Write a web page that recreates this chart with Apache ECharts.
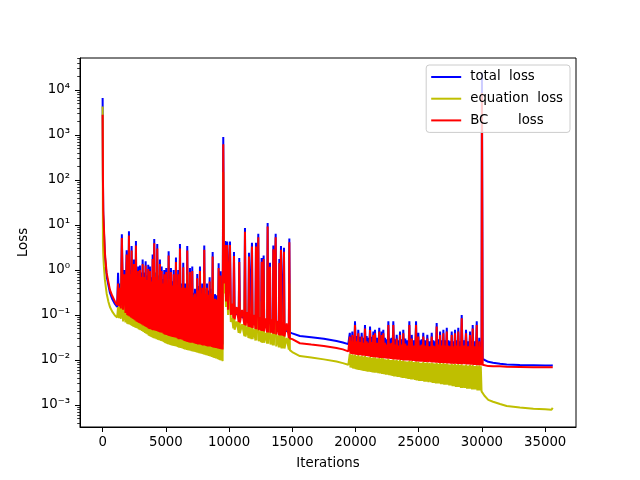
<!DOCTYPE html>
<html>
<head>
<meta charset="utf-8">
<script src="https://cdn.jsdelivr.net/npm/echarts@6/dist/echarts.min.js"></script>
<style>
html,body{margin:0;padding:0;background:#fff;}
#chart{width:640px;height:480px;}
</style>
</head>
<body>
<div id="chart"></div>
<script>
// ---------------- data ----------------
const iterations = [
  0, 25, 50, 100, 180, 316, 450, 578, 750, 973, 1150,
  1220, 1295, 1370, 1445,
  1520, 1615, 1710, 1805,
  1900, 1945, 1990, 2035,
  2081, 2135, 2188, 2241,
  2294, 2340, 2385, 2430,
  2476, 2516, 2555, 2595,
  2634, 2680, 2725, 2771,
  2817, 2851, 2884, 2918,
  2951, 3004, 3058, 3111,
  3164, 3224, 3283, 3343,
  3402, 3454, 3505, 3557,
  3608, 3642, 3675, 3709,
  3742, 3796, 3849, 3903,
  3956, 3988, 4019, 4051,
  4082, 4142, 4201, 4261,
  4320, 4373, 4427, 4480,
  4533, 4567, 4601, 4634,
  4668, 4719, 4771, 4822,
  4873, 4913, 4953, 4992,
  5032, 5079, 5127, 5174,
  5221, 5267, 5312, 5358,
  5403, 5457, 5510, 5564,
  5617, 5663, 5708, 5754,
  5799, 5845, 5890, 5936,
  5981, 6015, 6048, 6082,
  6115, 6181, 6246, 6312,
  6377, 6417, 6456, 6496,
  6535, 6575, 6614, 6654,
  6693, 6747, 6800, 6854,
  6907, 6953, 6998, 7044,
  7089, 7142, 7196, 7249,
  7302, 7348, 7393, 7439,
  7484, 7538, 7591, 7645,
  7698, 7744, 7789, 7835,
  7880, 7920, 7959, 7999,
  8038, 8092, 8145, 8199,
  8252, 8305, 8359, 8412,
  8465, 8525, 8584, 8644,
  8703, 8748, 8794, 8839,
  8884, 8957, 9031, 9104,
  9177, 9217, 9256, 9296,
  9335, 9387, 9438, 9490,
  9541,
  9600, 9700, 9760, 9850, 9920, 10071, 10140, 10240,
  10340, 10388, 10440, 10600, 10760, 10807, 10860, 11035, 11210, 11258, 11310, 11420,
  11530, 11574, 11620, 11695, 11770, 11812, 11860, 11970, 12085, 12128, 12170,
  12270, 12312, 12355, 12445, 12535, 12576, 12620, 12695, 12735, 12780, 12895,
  13010, 13051, 13095, 13195, 13236, 13280, 13370, 13460, 13500, 13545,
  13645, 13687, 13730, 13830, 13935, 13975, 14020, 14065, 14106, 14150, 14225,
  14300, 14343, 14385, 14555, 14725, 14767, 14810, 14900,
  15000, 15600, 16500, 17500, 18500, 19000, 19430,
  19550, 19600, 19650, 19700,
  19750, 19800, 19855, 19910,
  19960, 20025, 20090, 20155,
  20220, 20288, 20355, 20423,
  20490, 20555, 20620, 20685,
  20750, 20817, 20883, 20950, 21017, 21083,
  21150, 21215, 21280, 21345,
  21410, 21443, 21475, 21508,
  21540, 21625, 21710, 21795,
  21880, 21928, 21975, 22023,
  22070, 22103, 22135, 22168,
  22200, 22267, 22333, 22400, 22467, 22533,
  22600, 22665, 22730, 22795, 22860, 22925,
  22990, 23058, 23125, 23193,
  23260, 23325, 23390, 23455,
  23520, 23585, 23650, 23715,
  23780, 23860, 23940, 24020, 24100, 24180,
  24260, 24308, 24355, 24403,
  24450, 24535, 24620, 24705,
  24790, 24835, 24880, 24925,
  24970, 25035, 25100, 25165, 25230, 25295,
  25360, 25440, 25520, 25600,
  25680, 25768, 25855, 25943,
  26030, 26095, 26160, 26225, 26290, 26355,
  26420, 26488, 26555, 26623,
  26690, 26755, 26820, 26885,
  26950, 27018, 27085, 27153,
  27220, 27285, 27350, 27415, 27480, 27545,
  27610, 27675, 27740, 27805,
  27870, 27935, 28000, 28065,
  28130, 28198, 28265, 28333,
  28400, 28485, 28570, 28655,
  28740, 28820, 28900, 28980,
  29060, 29113, 29165, 29218,
  29270, 29350, 29430, 29510,
  29590, 29640, 29690, 29740,
  29790, 29850, 29910, 29970,
  30000,
  30060, 30200, 30500, 30880, 31430, 31960, 33000, 34070, 35000, 35500, 35600
];

const totalLoss = [
  6600, 100, 17, 7.5, 2.0, 0.73, 0.47, 0.31, 0.23, 0.175, 0.15,
  0.86, 0.2, 0.5, 0.18,
  6.2, 0.17, 1.0, 0.14,
  2.75, 0.13, 1.1, 0.125,
  7.2, 0.12, 1.0, 0.115,
  3.4, 0.11, 1.1, 0.105,
  1.7, 0.1, 0.88, 0.098,
  4.4, 0.094, 0.88, 0.09,
  1.2, 0.087, 0.75, 0.085,
  1.25, 0.083, 0.88, 0.08,
  1.7, 0.075, 0.88, 0.073,
  1.55, 0.07, 0.75, 0.068,
  1.3, 0.065, 0.75, 0.064,
  1.2, 0.062, 0.69, 0.061,
  2.2, 0.06, 1.0, 0.059,
  4.9, 0.058, 0.88, 0.057,
  3.75, 0.056, 0.75, 0.055,
  1.7, 0.053, 0.63, 0.053,
  1.2, 0.052, 0.63, 0.049,
  1.0, 0.048, 0.56, 0.047,
  1.1, 0.047, 0.63, 0.045,
  2.6, 0.044, 0.56, 0.044,
  1.1, 0.043, 0.56, 0.042,
  1.0, 0.042, 0.63, 0.041,
  1.9, 0.04, 0.56, 0.039,
  1.0, 0.038, 0.63, 0.038,
  3.75, 0.038, 0.5, 0.036,
  1.45, 0.035, 0.38, 0.034,
  0.5, 0.034, 0.44, 0.033,
  3.4, 0.0325, 0.5, 0.032,
  1.1, 0.031, 0.5, 0.031,
  1.2, 0.031, 0.31, 0.0305,
  0.38, 0.03, 0.31, 0.029,
  0.81, 0.0285, 0.44, 0.0285,
  1.2, 0.0285, 0.38, 0.028,
  0.5, 0.027, 0.38, 0.027,
  3.5, 0.027, 0.38, 0.0265,
  0.5, 0.026, 0.35, 0.026,
  0.69, 0.0257, 0.38, 0.025,
  2.5, 0.0247, 0.25, 0.0244,
  0.29, 0.024, 0.275, 0.0234,
  1.4, 0.0231, 0.38, 0.0227,
  0.94, 0.0224, 0.31, 0.022,
  900,
  0.8, 4.4, 0.3, 4.3, 0.17, 4.3, 0.13, 0.125,
  0.115, 2.5, 0.11, 0.105, 0.1, 1.85, 0.095, 0.09, 0.085, 8.5, 0.083, 0.082,
  0.08, 2.4, 0.078, 0.077, 0.076, 4.0, 0.075, 0.073, 0.071, 4.0, 0.07,
  0.068, 6.4, 0.067, 0.066, 0.065, 1.85, 0.064, 0.063, 2.1, 0.062, 0.061,
  0.06, 11, 0.059, 0.058, 1.45, 0.057, 0.056, 0.055, 3.5, 0.054,
  0.053, 6.4, 0.052, 0.051, 0.05, 1.75, 0.049, 0.049, 3.4, 0.048, 0.047,
  0.046, 3.1, 0.045, 0.044, 0.042, 5.0, 0.041, 0.04,
  0.039, 0.034, 0.032, 0.0295, 0.0265, 0.0245, 0.0225,
  0.04, 0.018, 0.034, 0.0177,
  0.043, 0.0174, 0.0325, 0.0173,
  0.072, 0.017, 0.034, 0.0169,
  0.047, 0.0166, 0.0325, 0.0165,
  0.04, 0.0162, 0.031, 0.0161,
  0.06, 0.0159, 0.034, 0.0157, 0.031, 0.0156,
  0.055, 0.0152, 0.0325, 0.0151,
  0.043, 0.015, 0.0286, 0.015,
  0.047, 0.0148, 0.031, 0.0147,
  0.052, 0.0144, 0.03, 0.0144,
  0.043, 0.0143, 0.0286, 0.0143,
  0.047, 0.0142, 0.031, 0.014, 0.0286, 0.0139,
  0.072, 0.0138, 0.03, 0.0137, 0.031, 0.0135,
  0.072, 0.0134, 0.0286, 0.0133,
  0.036, 0.0131, 0.0273, 0.0131,
  0.043, 0.013, 0.0286, 0.0129,
  0.047, 0.0127, 0.03, 0.0127, 0.0273, 0.0126,
  0.072, 0.0125, 0.0286, 0.0125,
  0.036, 0.0124, 0.0273, 0.0122,
  0.072, 0.0121, 0.0286, 0.0121,
  0.04, 0.012, 0.0273, 0.012, 0.0286, 0.0118,
  0.04, 0.0117, 0.0273, 0.0117,
  0.036, 0.0116, 0.026, 0.0116,
  0.04, 0.0114, 0.0273, 0.0114, 0.026, 0.0113,
  0.066, 0.0113, 0.0286, 0.0112,
  0.043, 0.0112, 0.0273, 0.0112,
  0.047, 0.011, 0.0273, 0.011,
  0.052, 0.0109, 0.0273, 0.0109, 0.026, 0.0108,
  0.043, 0.0108, 0.026, 0.0107,
  0.047, 0.0107, 0.0273, 0.0105,
  0.052, 0.0105, 0.026, 0.0104,
  0.1, 0.0104, 0.0273, 0.0104,
  0.047, 0.0103, 0.026, 0.0103,
  0.043, 0.0101, 0.026, 0.0101,
  0.06, 0.01, 0.026, 0.01,
  0.072, 0.0099, 0.0247, 0.0099,
  0.031, 0.0099, 0.0247, 0.0098,
  24000,
  0.0105, 0.0097, 0.0091, 0.0087, 0.0082, 0.0079, 0.0077, 0.0076, 0.0075, 0.0075, 0.0076
];

const equationLoss = [
  4300, 4.0, 2.2, 1.2, 0.6, 0.3, 0.2, 0.15, 0.12, 0.097, 0.088,
  0.15, 0.085, 0.2, 0.082,
  1.5, 0.072, 0.17, 0.068,
  0.66, 0.064, 0.13, 0.062,
  1.7, 0.061, 0.12, 0.059,
  0.8, 0.057, 0.11, 0.055,
  0.4, 0.054, 0.1, 0.052,
  1.0, 0.051, 0.094, 0.05,
  0.28, 0.048, 0.087, 0.047,
  0.3, 0.046, 0.083, 0.044,
  0.4, 0.042, 0.075, 0.04,
  0.37, 0.038, 0.07, 0.037,
  0.31, 0.035, 0.065, 0.034,
  0.28, 0.033, 0.062, 0.032,
  0.52, 0.031, 0.06, 0.0305,
  1.2, 0.03, 0.058, 0.029,
  0.9, 0.028, 0.056, 0.0275,
  0.4, 0.027, 0.053, 0.0265,
  0.28, 0.026, 0.052, 0.025,
  0.24, 0.024, 0.048, 0.0235,
  0.27, 0.023, 0.047, 0.0225,
  0.63, 0.022, 0.044, 0.0215,
  0.27, 0.021, 0.043, 0.0207,
  0.24, 0.0205, 0.042, 0.0202,
  0.45, 0.02, 0.04, 0.0195,
  0.24, 0.019, 0.038, 0.0187,
  0.9, 0.0185, 0.038, 0.018,
  0.35, 0.0175, 0.035, 0.0172,
  0.12, 0.017, 0.034, 0.0167,
  0.8, 0.0165, 0.0325, 0.0162,
  0.27, 0.016, 0.031, 0.0157,
  0.28, 0.0155, 0.031, 0.0152,
  0.09, 0.015, 0.03, 0.0147,
  0.2, 0.0145, 0.0285, 0.0142,
  0.28, 0.014, 0.0285, 0.0137,
  0.12, 0.0135, 0.027, 0.0132,
  0.84, 0.013, 0.027, 0.0127,
  0.12, 0.0125, 0.026, 0.0122,
  0.16, 0.012, 0.0257, 0.0117,
  0.6, 0.0113, 0.0247, 0.011,
  0.07, 0.0108, 0.024, 0.0104,
  0.33, 0.0101, 0.0231, 0.0099,
  0.22, 0.0097, 0.0224, 0.0094,
  150,
  0.3, 0.5, 0.15, 0.4, 0.1, 0.4, 0.07, 0.085,
  0.05, 0.3, 0.047, 0.072, 0.04, 0.2, 0.039, 0.062, 0.034, 0.8, 0.033, 0.055,
  0.031, 0.25, 0.03, 0.05, 0.029, 0.4, 0.029, 0.048, 0.027, 0.4, 0.027,
  0.026, 0.6, 0.026, 0.043, 0.025, 0.2, 0.024, 0.024, 0.2, 0.024, 0.04,
  0.023, 1.0, 0.023, 0.022, 0.15, 0.022, 0.037, 0.021, 0.35, 0.021,
  0.02, 0.6, 0.02, 0.035, 0.019, 0.18, 0.019, 0.019, 0.35, 0.018, 0.033,
  0.018, 0.3, 0.018, 0.031, 0.017, 0.5, 0.0165, 0.016,
  0.015, 0.0122, 0.0113, 0.0103, 0.0092, 0.0085, 0.0078,
  0.0137, 0.0068, 0.013, 0.0067,
  0.0134, 0.0065, 0.0127, 0.0064,
  0.0131, 0.0062, 0.0124, 0.0061,
  0.0128, 0.006, 0.0121, 0.0059,
  0.0125, 0.0058, 0.0119, 0.0057,
  0.0122, 0.0056, 0.0116, 0.0055, 0.0114, 0.0055,
  0.0117, 0.0054, 0.0111, 0.0053,
  0.0115, 0.0053, 0.0109, 0.0052,
  0.0114, 0.0052, 0.0108, 0.0051,
  0.0111, 0.005, 0.0105, 0.005,
  0.011, 0.0049, 0.0104, 0.0049,
  0.0109, 0.0048, 0.0103, 0.0047, 0.0102, 0.0047,
  0.0106, 0.0046, 0.01, 0.0045, 0.0099, 0.0044,
  0.0103, 0.0043, 0.0098, 0.0043,
  0.0101, 0.0042, 0.0096, 0.0042,
  0.01, 0.0041, 0.0095, 0.004,
  0.0098, 0.004, 0.0093, 0.0039, 0.0092, 0.0038,
  0.0096, 0.0038, 0.0091, 0.0037,
  0.0095, 0.0037, 0.009, 0.0036,
  0.0093, 0.0035, 0.0088, 0.0035,
  0.0092, 0.0034, 0.0087, 0.0034, 0.0087, 0.0034,
  0.009, 0.0033, 0.0086, 0.0033,
  0.0089, 0.0032, 0.0085, 0.0032,
  0.0088, 0.0031, 0.0084, 0.0031, 0.0083, 0.003,
  0.0087, 0.003, 0.0082, 0.003,
  0.0086, 0.0029, 0.0082, 0.0029,
  0.0085, 0.0028, 0.0081, 0.0028,
  0.0084, 0.0028, 0.008, 0.0027, 0.0079, 0.0027,
  0.0083, 0.0026, 0.0079, 0.0026,
  0.0082, 0.0025, 0.0078, 0.0025,
  0.0081, 0.0025, 0.0077, 0.0024,
  0.008, 0.0024, 0.0076, 0.0024,
  0.0079, 0.0023, 0.0075, 0.0023,
  0.0078, 0.0023, 0.0074, 0.0022,
  0.0077, 0.0022, 0.0073, 0.0022,
  0.0076, 0.0021, 0.0072, 0.0021,
  0.0076, 0.0021, 0.0072, 0.002,
  0.002,
  0.0019, 0.0016, 0.0013, 0.00118, 0.00105, 0.00095, 0.00088, 0.00082, 0.0008, 0.00078, 0.00086
];

const bcLoss = [
  2800, 120, 21, 9, 2.4, 0.86, 0.55, 0.36, 0.27, 0.2, 0.165,
  0.5, 0.155, 0.4, 0.14,
  5.1, 0.13, 0.8, 0.11,
  2.2, 0.1, 0.9, 0.096,
  5.8, 0.092, 0.8, 0.088,
  2.7, 0.085, 0.9, 0.081,
  1.35, 0.078, 0.7, 0.075,
  3.5, 0.072, 0.7, 0.07,
  0.95, 0.067, 0.6, 0.066,
  1.0, 0.064, 0.7, 0.061,
  1.35, 0.058, 0.7, 0.056,
  1.25, 0.054, 0.6, 0.052,
  1.05, 0.05, 0.6, 0.049,
  0.95, 0.048, 0.55, 0.047,
  1.74, 0.046, 0.8, 0.0455,
  3.9, 0.045, 0.7, 0.044,
  3.0, 0.043, 0.6, 0.042,
  1.35, 0.041, 0.5, 0.0405,
  0.95, 0.04, 0.5, 0.038,
  0.8, 0.037, 0.45, 0.0365,
  0.9, 0.036, 0.5, 0.035,
  2.1, 0.034, 0.45, 0.0335,
  0.9, 0.033, 0.45, 0.0325,
  0.8, 0.032, 0.5, 0.0315,
  1.5, 0.031, 0.45, 0.03,
  0.8, 0.029, 0.5, 0.029,
  3.0, 0.029, 0.4, 0.028,
  1.15, 0.027, 0.3, 0.0265,
  0.4, 0.026, 0.35, 0.0255,
  2.7, 0.025, 0.4, 0.0245,
  0.9, 0.024, 0.4, 0.024,
  0.95, 0.024, 0.25, 0.0235,
  0.3, 0.023, 0.25, 0.0225,
  0.65, 0.022, 0.35, 0.022,
  0.95, 0.022, 0.3, 0.0215,
  0.4, 0.021, 0.3, 0.021,
  2.8, 0.021, 0.3, 0.0205,
  0.4, 0.02, 0.28, 0.02,
  0.55, 0.0198, 0.3, 0.0194,
  2.0, 0.019, 0.2, 0.0188,
  0.23, 0.0185, 0.22, 0.018,
  1.1, 0.0178, 0.3, 0.0175,
  0.75, 0.0172, 0.25, 0.017,
  620,
  0.5, 3.6, 0.2, 3.6, 0.13, 3.6, 0.1, 0.18,
  0.085, 2.05, 0.08, 0.15, 0.07, 1.5, 0.068, 0.13, 0.06, 7.1, 0.058, 0.115,
  0.055, 1.98, 0.054, 0.106, 0.052, 3.3, 0.051, 0.1, 0.049, 3.3, 0.048,
  0.047, 5.3, 0.046, 0.09, 0.045, 1.53, 0.044, 0.044, 1.75, 0.043, 0.084,
  0.041, 9.2, 0.041, 0.04, 1.18, 0.04, 0.08, 0.039, 2.9, 0.038,
  0.038, 5.3, 0.037, 0.074, 0.036, 1.43, 0.035, 0.035, 2.8, 0.035, 0.07,
  0.034, 2.55, 0.033, 0.065, 0.031, 4.1, 0.03, 0.03,
  0.029, 0.0235, 0.022, 0.0205, 0.0185, 0.0172, 0.0155,
  0.033, 0.0137, 0.026, 0.0136,
  0.036, 0.0134, 0.025, 0.0133,
  0.06, 0.0131, 0.026, 0.013,
  0.039, 0.0128, 0.025, 0.0127,
  0.033, 0.0125, 0.024, 0.0124,
  0.05, 0.0122, 0.026, 0.0121, 0.024, 0.012,
  0.046, 0.0117, 0.025, 0.0116,
  0.036, 0.0115, 0.022, 0.0115,
  0.039, 0.0114, 0.024, 0.0113,
  0.043, 0.0111, 0.023, 0.0111,
  0.036, 0.011, 0.022, 0.011,
  0.039, 0.0109, 0.024, 0.0108, 0.022, 0.0107,
  0.06, 0.0106, 0.023, 0.0105, 0.024, 0.0104,
  0.06, 0.0103, 0.022, 0.0102,
  0.03, 0.0101, 0.021, 0.0101,
  0.036, 0.01, 0.022, 0.0099,
  0.039, 0.0098, 0.023, 0.0098, 0.021, 0.0097,
  0.06, 0.0096, 0.022, 0.0096,
  0.03, 0.0095, 0.021, 0.0094,
  0.06, 0.0093, 0.022, 0.0093,
  0.033, 0.0092, 0.021, 0.0092, 0.022, 0.0091,
  0.033, 0.009, 0.021, 0.009,
  0.03, 0.0089, 0.02, 0.0089,
  0.033, 0.0088, 0.021, 0.0088, 0.02, 0.0087,
  0.055, 0.0087, 0.022, 0.0086,
  0.036, 0.0086, 0.021, 0.0086,
  0.039, 0.0085, 0.021, 0.0085,
  0.043, 0.0084, 0.021, 0.0084, 0.02, 0.0083,
  0.036, 0.0083, 0.02, 0.0082,
  0.039, 0.0082, 0.021, 0.0081,
  0.043, 0.0081, 0.02, 0.008,
  0.084, 0.008, 0.021, 0.008,
  0.039, 0.0079, 0.02, 0.0079,
  0.036, 0.0078, 0.02, 0.0078,
  0.05, 0.0077, 0.02, 0.0077,
  0.06, 0.0076, 0.019, 0.0076,
  0.026, 0.0076, 0.019, 0.0075,
  8500,
  0.0078, 0.0075, 0.0073, 0.0072, 0.0072, 0.0071, 0.007, 0.0069, 0.0069, 0.0069, 0.0069
];

const seriesNames = ['total  loss', 'equation  loss', 'BC       loss'];
const seriesColors = ['#0000ff', '#bfbf00', '#ff0000'];

const xTickValues = [0, 5000, 10000, 15000, 20000, 25000, 30000, 35000];
const xTickLabels = ['0', '5000', '10000', '15000', '20000', '25000', '30000', '35000'];
const yTickValues = [1e-3, 1e-2, 1e-1, 1, 10, 100, 1000, 10000];
const yTickLabels = ['10\u207B\u00B3', '10\u207B\u00B2', '10\u207B\u00B9', '10\u2070', '10\u00B9', '10\u00B2', '10\u00B3', '10\u2074'];

// ---------------- chart ----------------
const n = Math.min(iterations.length, totalLoss.length, equationLoss.length, bcLoss.length);
function pairs(vals) {
  const out = [];
  for (let i = 0; i < n; i++) out.push([iterations[i], vals[i]]);
  return out;
}
const minorY = [];
for (let e = -4; e <= 4; e++) {
  for (let m = 2; m <= 9; m++) minorY.push(m * Math.pow(10, e));
}
const yMin = Math.pow(10, -3.49), yMax = Math.pow(10, 4.71);
const FONT = 'DejaVu Sans';
const FS = 13.3;

const chart = echarts.init(document.getElementById('chart'), null, {renderer: 'canvas'});
chart.setOption({
  animation: false,
  backgroundColor: '#ffffff',
  textStyle: {fontFamily: FONT},
  grid: {left: 80, top: 58, width: 496, height: 369, show: true, borderColor: '#000', borderWidth: 1, backgroundColor: 'transparent'},
  legend: {
    orient: 'vertical', right: 70, top: 65,
    padding: [5, 7, 5, 5], itemWidth: 30, itemHeight: 2, itemGap: 7.7, icon: 'rect',
    backgroundColor: 'rgba(255,255,255,0.8)', borderColor: '#cccccc', borderWidth: 1, borderRadius: 3,
    textStyle: {fontFamily: FONT, fontSize: FS, color: '#000', padding: [0, 0, 0, 4], lineHeight: 14},
    data: seriesNames
  },
  xAxis: {
    type: 'value', min: -1790, max: 37440,
    name: 'Iterations', nameLocation: 'middle', nameGap: 30,
    nameTextStyle: {fontFamily: FONT, fontSize: FS, color: '#000'},
    axisLine: {show: true, onZero: false, lineStyle: {color: '#000', width: 1}},
    axisTick: {show: true, length: 5, lineStyle: {color: '#000', width: 1}, customValues: xTickValues},
    axisLabel: {show: true, margin: 9, fontFamily: FONT, fontSize: FS, color: '#000', customValues: xTickValues,
      formatter: function (v) { const i = xTickValues.indexOf(v); return i >= 0 ? xTickLabels[i] : ''; }},
    splitLine: {show: false}
  },
  yAxis: [{
    type: 'log', logBase: 10, min: yMin, max: yMax,
    name: 'Loss', nameLocation: 'middle', nameGap: 38, nameRotate: 90,
    nameTextStyle: {fontFamily: FONT, fontSize: FS, color: '#000'},
    axisLine: {show: true, onZero: false, lineStyle: {color: '#000', width: 1}},
    axisTick: {show: true, length: 5, lineStyle: {color: '#000', width: 1}, customValues: yTickValues},
    axisLabel: {show: true, margin: 10, fontFamily: FONT, fontSize: FS, color: '#000', customValues: yTickValues,
      formatter: function (v) {
        let best = -1, bd = 1e9;
        for (let i = 0; i < yTickValues.length; i++) {
          const d = Math.abs(Math.log10(v) - Math.log10(yTickValues[i]));
          if (d < bd) { bd = d; best = i; }
        }
        return bd < 0.01 ? yTickLabels[best] : '';
      }},
    splitLine: {show: false}
  }, {
    type: 'log', logBase: 10, min: yMin, max: yMax, position: 'left',
    axisLine: {show: false, onZero: false},
    axisTick: {show: true, length: 2.8, lineStyle: {color: '#000', width: 0.8}, customValues: minorY},
    axisLabel: {show: false},
    splitLine: {show: false}
  }],
  series: [
    {name: seriesNames[0], type: 'line', data: pairs(totalLoss), yAxisIndex: 0, showSymbol: false, symbol: 'none', sampling: null,
      color: seriesColors[0], lineStyle: {color: seriesColors[0], width: 2}},
    {name: seriesNames[1], type: 'line', data: pairs(equationLoss), yAxisIndex: 0, showSymbol: false, symbol: 'none', sampling: null,
      color: seriesColors[1], lineStyle: {color: seriesColors[1], width: 2}},
    {name: seriesNames[2], type: 'line', data: pairs(bcLoss), yAxisIndex: 0, showSymbol: false, symbol: 'none', sampling: null,
      color: seriesColors[2], lineStyle: {color: seriesColors[2], width: 2}}
  ]
});
</script>
</body>
</html>
